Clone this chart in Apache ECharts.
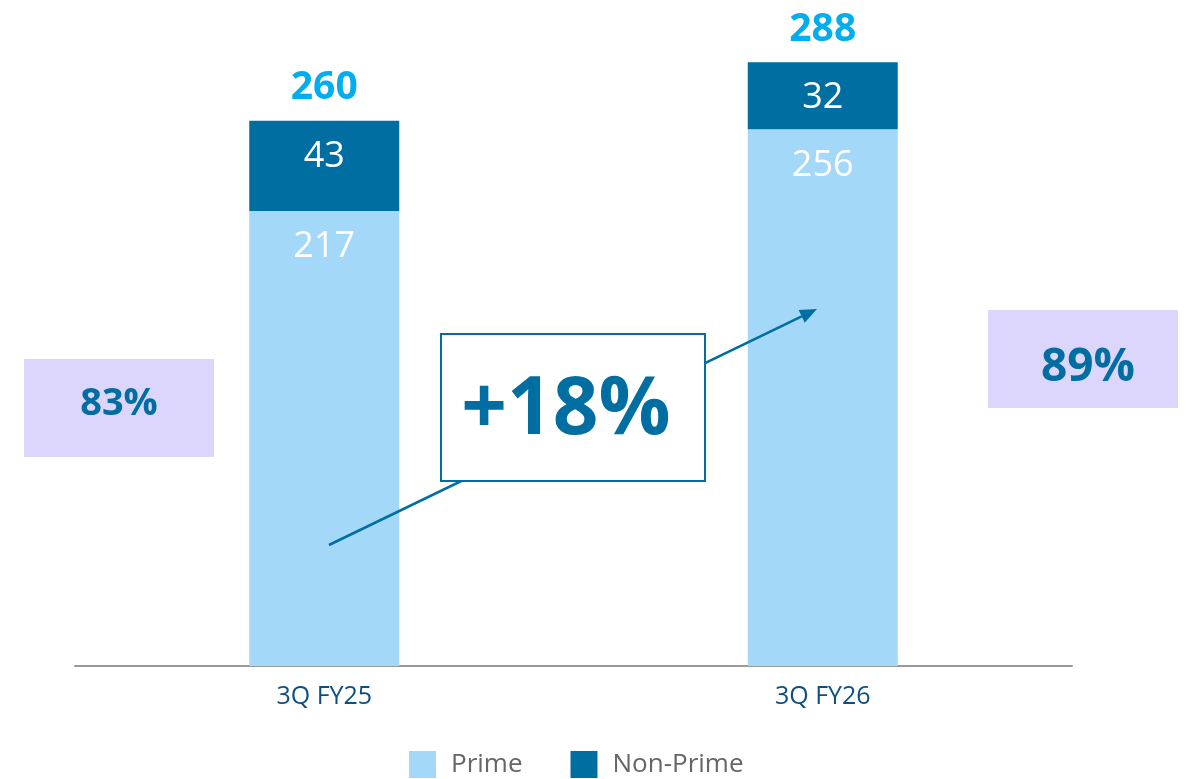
<!DOCTYPE html>
<html>
<head>
<meta charset="utf-8">
<style>
  html, body { margin: 0; padding: 0; background: #fff; }
  #chart { width: 1188px; height: 779px; }
</style>
<script src="https://cdn.jsdelivr.net/npm/echarts@6/dist/echarts.min.js"></script>
</head>
<body>
<div id="chart"></div>
<script>
const categories = ['3Q FY25', '3Q FY26'];
const prime = [217, 256];
const nonPrime = [43, 32];
const totals = [260, 288];
const growthLabel = '+18%';

const FONT = '"Open Sans", "Noto Sans", sans-serif';
const DARK = '#016ea1';

const chart = echarts.init(document.getElementById('chart'));

const shares = prime.map((p, i) => Math.round(p / totals[i] * 100) + '%');

// arrow from lower left to upper right
const a0 = [329, 545], a1 = [817, 309];
const dx = a1[0] - a0[0], dy = a1[1] - a0[1];
const len = Math.sqrt(dx * dx + dy * dy);
const ux = dx / len, uy = dy / len;
const headLen = 17, headW = 7;
const base = [a1[0] - ux * headLen, a1[1] - uy * headLen];

const insideLabel = {
  show: true,
  position: 'insideTop',
  distance: 18,
  fontFamily: FONT,
  fontSize: 36,
  color: '#fff'
};

const option = {
  animation: false,
  grid: { left: 75, right: 116, top: 37, bottom: 113 },
  legend: {
    data: ['Prime', 'Non-Prime'],
    left: 409,
    top: 751,
    padding: 0,
    itemWidth: 27,
    itemHeight: 27,
    itemGap: 48,
    icon: 'rect',
    textStyle: { fontFamily: FONT, fontSize: 26, color: '#666', padding: [4, 0, 0, 10] }
  },
  xAxis: {
    type: 'category',
    data: categories,
    axisLine: { lineStyle: { color: '#999', width: 2 } },
    axisTick: { show: false },
    axisLabel: { fontFamily: FONT, fontSize: 25, color: '#0d4f80', margin: 18 }
  },
  yAxis: {
    type: 'value',
    min: 0,
    max: 300,
    show: false,
    splitLine: { show: false }
  },
  series: [
    {
      name: 'Prime',
      type: 'bar',
      stack: 'total',
      barWidth: 150,
      data: prime,
      itemStyle: { color: '#a3d8f8' },
      label: insideLabel
    },
    {
      name: 'Non-Prime',
      type: 'bar',
      stack: 'total',
      barWidth: 150,
      data: nonPrime,
      itemStyle: { color: DARK },
      label: insideLabel
    },
    {
      name: 'Total',
      type: 'bar',
      stack: 'total',
      barWidth: 150,
      data: totals.map(() => 0),
      itemStyle: { color: 'transparent' },
      label: {
        show: true,
        position: 'top',
        distance: 13,
        fontFamily: FONT,
        fontSize: 39,
        fontWeight: 'bold',
        color: '#00aeef',
        formatter: p => totals[p.dataIndex]
      }
    }
  ],
  graphic: [
    {
      type: 'line',
      shape: { x1: a0[0], y1: a0[1], x2: base[0], y2: base[1] },
      style: { stroke: DARK, lineWidth: 2.5 },
      z: 10
    },
    {
      type: 'polygon',
      shape: {
        points: [
          a1,
          [base[0] - uy * headW, base[1] + ux * headW],
          [base[0] + uy * headW, base[1] - ux * headW]
        ]
      },
      style: { fill: DARK },
      z: 10
    },
    {
      type: 'rect',
      shape: { x: 441, y: 334, width: 264, height: 147 },
      style: { fill: '#fff', stroke: DARK, lineWidth: 2 },
      z: 11
    },
    {
      type: 'text',
      x: 566,
      y: 411,
      style: {
        text: growthLabel,
        fontFamily: FONT,
        fontSize: 80,
        fontWeight: 'bold',
        fill: DARK,
        align: 'center',
        verticalAlign: 'middle'
      },
      z: 12
    },
    {
      type: 'rect',
      shape: { x: 24, y: 359, width: 190, height: 98 },
      style: { fill: '#dcd5fc' },
      z: 10
    },
    {
      type: 'text',
      x: 119,
      y: 404,
      style: {
        text: shares[0],
        fontFamily: FONT,
        fontSize: 38,
        fontWeight: 'bold',
        fill: DARK,
        align: 'center',
        verticalAlign: 'middle'
      },
      z: 11
    },
    {
      type: 'rect',
      shape: { x: 988, y: 310, width: 190, height: 98 },
      style: { fill: '#dcd5fc' },
      z: 10
    },
    {
      type: 'text',
      x: 1088,
      y: 368,
      style: {
        text: shares[1],
        fontFamily: FONT,
        fontSize: 46,
        fontWeight: 'bold',
        fill: DARK,
        align: 'center',
        verticalAlign: 'middle'
      },
      z: 11
    }
  ]
};

chart.setOption(option);
</script>
</body>
</html>
